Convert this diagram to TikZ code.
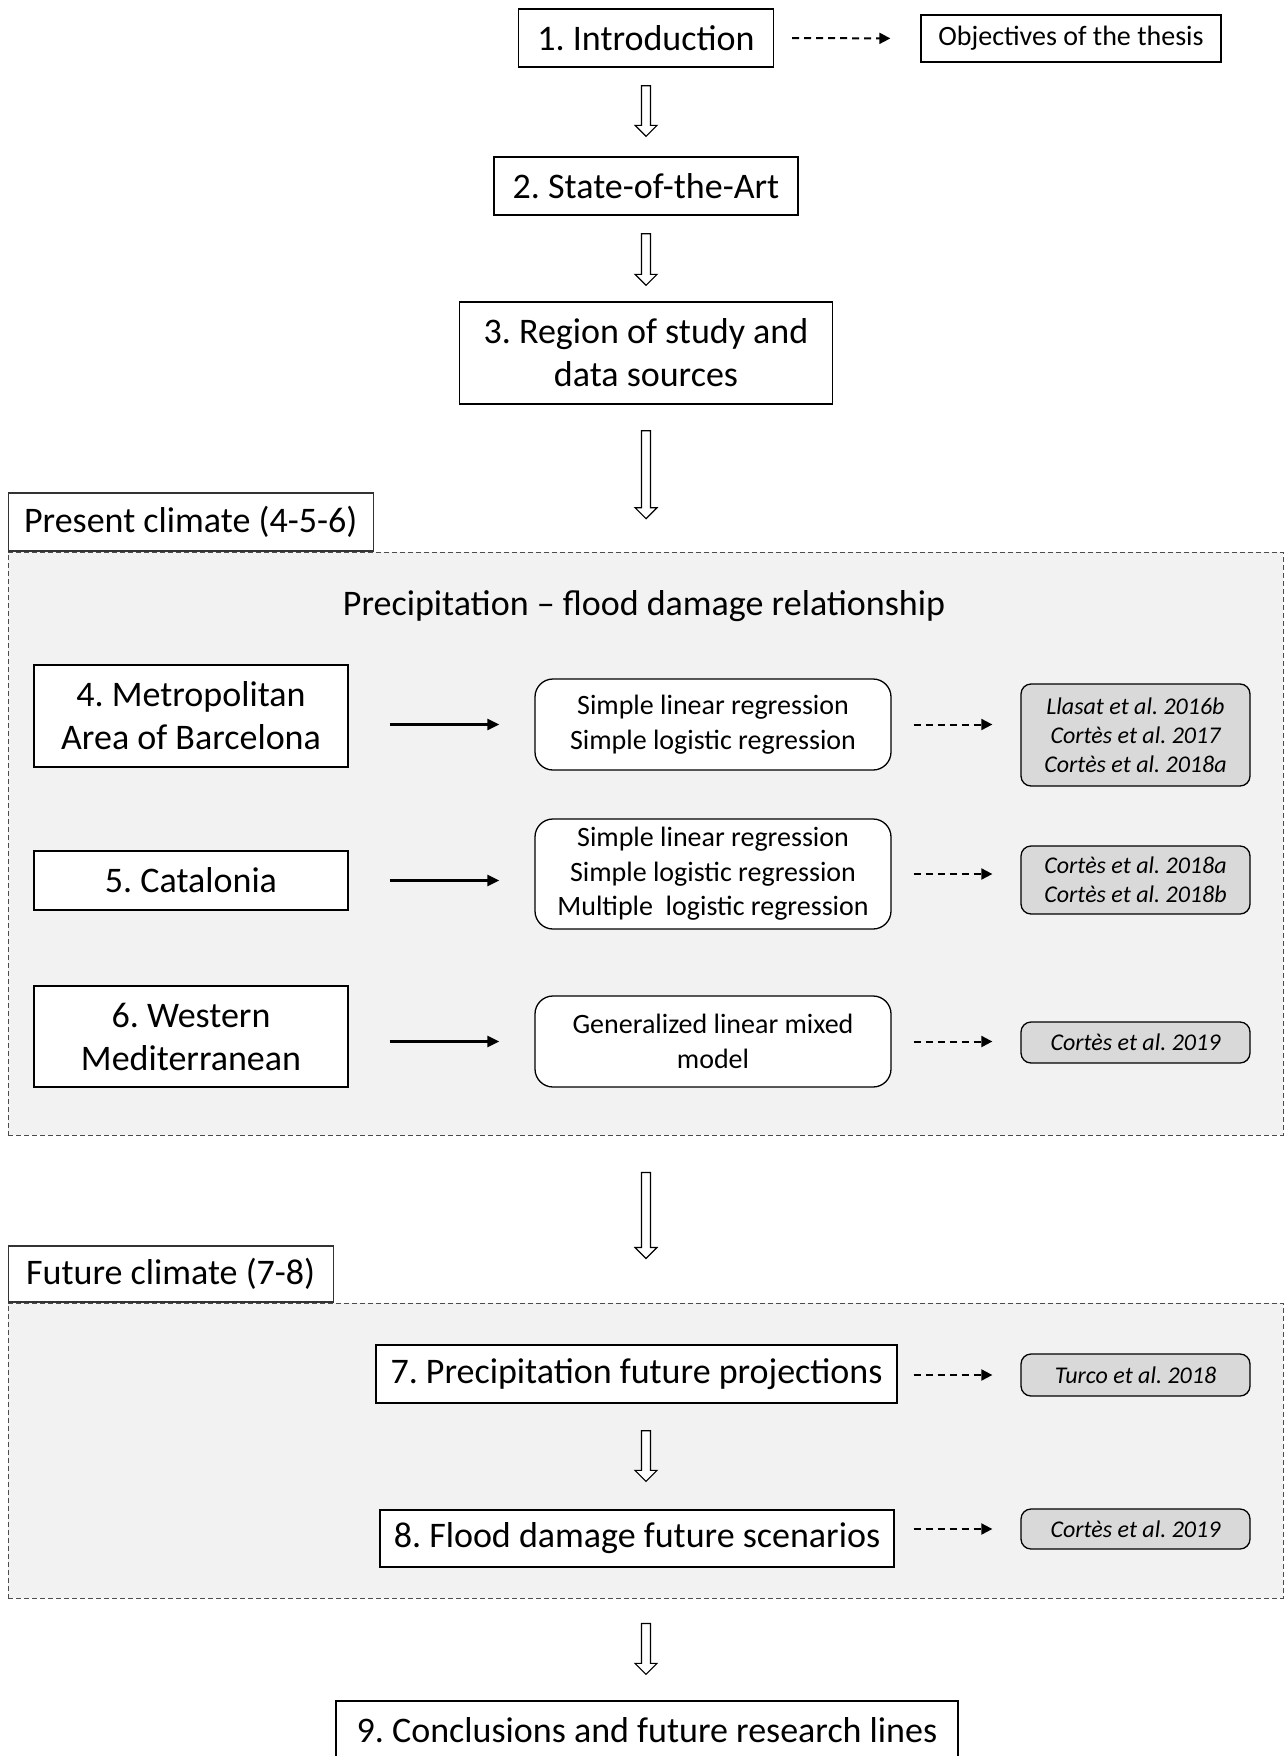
\documentclass[tikz,border=0pt]{standalone}
\usepackage{fontspec}
\setmainfont{Carlito}
\usepackage{tikz}
\usetikzlibrary{arrows.meta, positioning, calc}
\frenchspacing
\definecolor{zonegray}{HTML}{F2F2F2}
\definecolor{refgray}{HTML}{D9D9D9}
\tikzstyle{chapter}   = [rectangle, draw=black, line width=1.3pt, fill=white, text centered,
                         align=center, inner sep=0pt, font=\fontsize{36}{43}\selectfont]
\tikzstyle{dasharrow} = [line width=2pt, dash pattern=on 7pt off 5pt,
                         -{Triangle[length=11pt,width=11pt]}]
\newcommand{\hollowarrow}[2]{%
  \coordinate (ha) at (#1);
  \coordinate (hb) at (#2);
  \draw[line width=1.2pt, fill=white]
    ($(ha)+(-4.5,0)$) -- ($(hb)+(-4.5,-11)$) -- ($(hb)+(-11,-11)$) -- (hb)
    -- ($(hb)+(11,-11)$) -- ($(hb)+(4.5,-11)$) -- ($(ha)+(4.5,0)$) -- cycle;
}

\begin{document}
\begin{tikzpicture}[x=1pt, y=-1pt,
    method/.style={rectangle, rounded corners=18pt, draw=black, line width=1.3pt, fill=white,
                   minimum width=356pt, align=center, inner sep=0pt,
                   font=\fontsize{28}{34.5}\selectfont},
    ref/.style={rectangle, rounded corners=10pt, draw=black, line width=1.3pt, fill=refgray,
                minimum width=229pt, align=center, inner sep=0pt,
                font=\fontsize{24}{29}\selectfont\itshape},
    zone/.style={rectangle, draw=black!70, dash pattern=on 5pt off 3pt, line width=1pt,
                 fill=zonegray, minimum width=1275pt, inner sep=0pt},
    tab/.style={rectangle, draw=black!80, line width=1.3pt, fill=white, anchor=south west,
                inner sep=0pt, font=\fontsize{36}{43}\selectfont},
    arr/.style={line width=2.5pt, -{Triangle[length=12pt,width=11pt]}}]

  \useasboundingbox (0,0) rectangle (1285,1756);

  \node[chapter, minimum width=255pt, minimum height=58pt] (intro) at (646,38) {1. Introduction};
  \node[chapter, minimum width=300pt, minimum height=47pt,
        font=\fontsize{28}{34}\selectfont]               (obj)   at (1071,38.5) {Objectives of the thesis};
  \node[chapter, minimum width=304pt, minimum height=58pt] (sota)  at (646,186) {2. State-of-the-Art};
  \node[chapter, minimum width=373pt, minimum height=102pt] (study) at (646,353) {3. Region of study and\\data sources};

  \draw[dasharrow, shorten <=18pt, shorten >=30pt] (intro.east) -- (obj.west);

  % present climate
  \node[zone, minimum height=583pt] (present) at (645.5,843.5) {};
  \node[tab, minimum width=365pt, minimum height=58pt] (presenttab) at (present.north west) {Present climate (4-5-6)};
  \node[font=\fontsize{36}{43}\selectfont] (relation) at (644,606) {Precipitation – flood damage relationship};

  \node[chapter, minimum width=314pt, minimum height=102pt] (amb)  at (191,716)    {4. Metropolitan\\Area of Barcelona};
  \node[method, minimum height=91pt]                        (m4)   at (713,724.5)  {Simple linear regression\\Simple logistic regression};
  \node[ref, minimum height=102pt]                          (r4)   at (1135.5,735) {Llasat et al. 2016b\\Cortès et al. 2017\\Cortès et al. 2018a};

  \node[chapter, minimum width=314pt, minimum height=59pt]  (cat)  at (191,880.5)  {5. Catalonia};
  \node[method, minimum height=110pt]                       (m5)   at (713,874)    {Simple linear regression\\Simple logistic regression\\Multiple\ \ logistic regression};
  \node[ref, minimum height=68pt]                           (r5)   at (1135.5,880) {Cortès et al. 2018a\\Cortès et al. 2018b};

  \node[chapter, minimum width=314pt, minimum height=101pt] (wmed) at (191,1036.5) {6. Western\\Mediterranean};
  \node[method, minimum height=91pt]                        (m6)   at (713,1041.5) {Generalized linear mixed\\model};
  \node[ref, minimum height=41pt]                           (r6)   at (1135.5,1042.5) {Cortès et al. 2019};

  \draw[arr, shorten <=41pt, shorten >=35pt] (amb.east |- m4) -- (m4.west);
  \draw[arr, shorten <=41pt, shorten >=35pt] (cat.east) -- (m5.west |- cat);
  \draw[arr, shorten <=41pt, shorten >=35pt] (wmed.east |- m6) -- (m6.west);

  \draw[dasharrow, shorten <=22pt, shorten >=28pt] (m4.east) -- (r4.west |- m4.east);
  \draw[dasharrow, shorten <=22pt, shorten >=28pt] (m5.east) -- (r5.west |- m5.east);
  \draw[dasharrow, shorten <=22pt, shorten >=28pt] (m6.east) -- (r6.west |- m6.east);

  % future climate
  \node[zone, minimum height=295pt] (future) at (645.5,1450.5) {};
  \node[tab, minimum width=325pt, minimum height=56pt] (futuretab) at (future.north west) {Future climate (7-8)};

  \node[chapter, minimum width=521pt, minimum height=58pt] (proj) at (636.5,1374)  {7. Precipitation future projections};
  \node[ref, minimum height=42pt]                          (r7)   at (1135.5,1375) {Turco et al. 2018};
  \node[chapter, minimum width=514pt, minimum height=57pt] (scen) at (637,1538.5)  {8. Flood damage future scenarios};
  \node[ref, minimum height=40pt]                          (r8)   at (1135.5,1529) {Cortès et al. 2019};

  \draw[dasharrow, shorten <=16pt, shorten >=28pt] (proj.east |- r7) -- (r7.west);
  \draw[dasharrow, shorten <=19pt, shorten >=28pt] (scen.east |- r8) -- (r8.west);

  \node[chapter, minimum width=622pt, minimum height=58pt] (concl) at (647,1730) {9. Conclusions and future research lines};

  % block arrows
  \hollowarrow{$(intro.south)+(0,18)$}{$(sota.north)+(0,-20)$}
  \hollowarrow{$(sota.south)+(0,18)$}{$(study.north)+(0,-16)$}
  \hollowarrow{$(study.south)+(0,26)$}{$(study.south)+(0,114)$}
  \hollowarrow{$(present.south -| intro)+(0,37)$}{$(present.south -| intro)+(0,123)$}
  \hollowarrow{$(proj.south -| intro)+(0,27)$}{$(scen.north -| intro)+(0,-28)$}
  \hollowarrow{$(future.south -| intro)+(0,25)$}{$(concl.north -| intro)+(0,-26)$}
\end{tikzpicture}
\end{document}
